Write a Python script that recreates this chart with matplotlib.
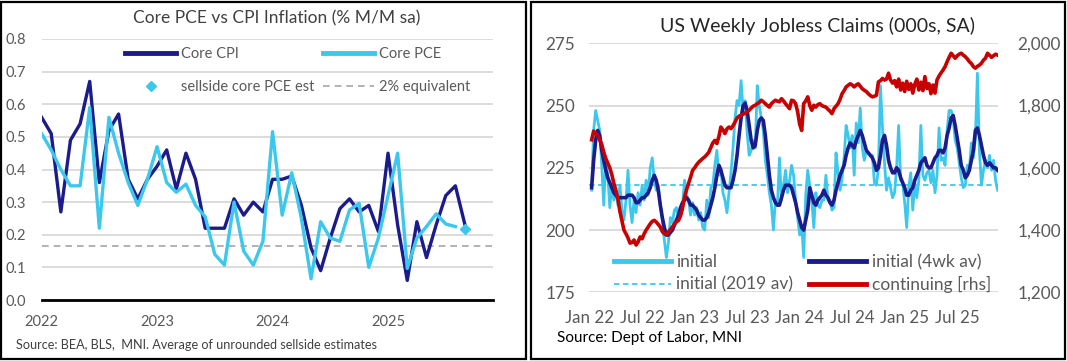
import numpy as np
import matplotlib
matplotlib.use('Agg')
import matplotlib.pyplot as plt
from matplotlib.lines import Line2D
from matplotlib.patches import Rectangle
from matplotlib.ticker import FuncFormatter

plt.rcParams['font.family'] = ['Lato', 'DejaVu Sans']

# ---- left chart: monthly core inflation, Jan 2022 onwards ----
core_cpi = [0.56, 0.51, 0.27, 0.49, 0.54, 0.67, 0.36, 0.52, 0.57, 0.37, 0.31, 0.37,
            0.41, 0.46, 0.34, 0.45, 0.37, 0.22, 0.22, 0.22, 0.31, 0.26, 0.30, 0.27,
            0.37, 0.37, 0.38, 0.29, 0.16, 0.09, 0.19, 0.28, 0.31, 0.27, 0.29, 0.21,
            0.45, 0.23, 0.06, 0.24, 0.13, 0.23, 0.32, 0.35, 0.23]
core_pce = [0.51, 0.46, 0.40, 0.35, 0.35, 0.59, 0.22, 0.56, 0.45, 0.36, 0.29, 0.37,
            0.47, 0.36, 0.33, 0.355, 0.29, 0.255, 0.14, 0.107, 0.30, 0.15, 0.107, 0.18,
            0.516, 0.26, 0.39, 0.25, 0.065, 0.24, 0.19, 0.18, 0.276, 0.296, 0.10, 0.19,
            0.32, 0.45, 0.097, 0.19, 0.225, 0.264, 0.233, 0.225]
sellside_month = 44
sellside_est = 0.217
two_pct_equiv = 0.165
year_ticks = [0, 12, 24, 36]
year_labels = ['2022', '2023', '2024', '2025']

# ---- right chart: weekly jobless claims, week 0 = 8 Jan 2022 ----
initial = [216, 240, 248, 244, 240, 226, 210, 228, 222, 209,
           218, 212, 216, 210, 218, 208, 204, 212, 224, 210,
           203, 212, 207, 215, 210, 218, 212, 220, 214, 225,
           229, 220, 216, 218, 210, 204, 196, 189, 195, 205,
           203, 208, 209, 204, 207, 210, 220, 214, 212, 206,
           211, 206, 209, 204, 207, 201, 200, 212, 205, 217,
           218, 226, 232, 222, 225, 215, 212, 207, 215, 223,
           233, 245, 252, 250, 260, 248, 252, 239, 230, 232,
           236, 233, 258, 250, 245, 240, 228, 222, 215, 210,
           200, 212, 210, 229, 212, 218, 224, 215, 220, 226,
           222, 212, 205, 198, 202, 189, 214, 224, 218, 212,
           201, 215, 210, 209, 212, 212, 222, 212, 212, 208,
           209, 231, 223, 216, 221, 229, 242, 238, 233, 238,
           222, 243, 235, 249, 233, 228, 232, 231, 230, 230,
           219, 218, 225, 258, 241, 227, 216, 221, 217, 213,
           215, 225, 242, 220, 219, 211, 201, 217, 223, 208,
           219, 213, 220, 242, 222, 220, 223, 224, 219, 224,
           215, 222, 241, 228, 229, 226, 240, 248, 248, 245,
           236, 233, 227, 221, 217, 218, 226, 224, 235, 229,
           237, 263, 232, 218, 224, 228, 225, 230, 224, 228,
           220, 216]
initial_4wk = [217, 228, 236, 240, 238, 232, 228, 224, 221, 219,
               217, 215, 214, 213, 213, 213, 213, 213, 214, 214,
               214, 213, 211, 211, 212, 213, 213, 214, 215, 217,
               220, 222, 220, 216, 210, 205, 201, 198, 198, 199,
               200, 202, 204, 206, 209, 211, 212, 213, 212, 210,
               210, 209, 208, 206, 205, 204, 204, 205, 207, 210,
               213, 217, 222, 226, 224, 221, 218, 217, 217, 217,
               220, 224, 230, 238, 245, 250, 251, 248, 242, 236,
               233, 234, 240, 244, 245, 244, 238, 230, 222, 216,
               213, 211, 210, 210, 213, 216, 218, 218, 218, 217,
               214, 211, 207, 204, 201, 200, 204, 208, 217, 214,
               211, 210, 212, 213, 214, 216, 214, 213, 211, 210,
               212, 216, 219, 222, 224, 226, 230, 233, 235, 234,
               233, 236, 238, 240, 238, 235, 232, 231, 230, 229,
               227, 224, 225, 230, 236, 238, 234, 228, 225, 223,
               223, 225, 224, 221, 219, 217, 214, 214, 216, 217,
               220, 222, 224, 227, 228, 229, 226, 225, 225, 227,
               229, 230, 232, 232, 231, 233, 238, 241, 245, 246,
               242, 237, 232, 226, 224, 221, 222, 224, 228, 232,
               240, 241, 238, 234, 230, 227, 226, 227, 226, 225,
               225, 224]
continuing = [1690, 1718, 1710, 1705, 1690, 1675, 1650, 1630, 1615, 1600,
              1578, 1550, 1528, 1500, 1460, 1430, 1400, 1388, 1375, 1358,
              1360, 1368, 1352, 1362, 1378, 1372, 1388, 1400, 1410, 1420,
              1428, 1431, 1426, 1418, 1410, 1395, 1388, 1385, 1394, 1402,
              1410, 1420, 1426, 1431, 1445, 1470, 1506, 1530, 1550, 1570,
              1592, 1600, 1610, 1618, 1624, 1630, 1635, 1642, 1650, 1665,
              1680, 1688, 1678, 1700, 1731, 1722, 1710, 1725, 1731, 1726,
              1735, 1747, 1760, 1766, 1769, 1772, 1776, 1780, 1785, 1792,
              1798, 1801, 1806, 1810, 1817, 1812, 1806, 1800, 1795, 1806,
              1812, 1817, 1814, 1812, 1822, 1815, 1806, 1798, 1790, 1817,
              1815, 1806, 1780, 1740, 1720, 1806, 1815, 1828, 1800, 1785,
              1801, 1795, 1803, 1806, 1800, 1797, 1795, 1788, 1782, 1774,
              1790, 1798, 1806, 1820, 1838, 1848, 1860, 1865, 1870, 1866,
              1860, 1866, 1870, 1862, 1854, 1849, 1845, 1838, 1832, 1828,
              1830, 1833, 1876, 1880, 1887, 1882, 1885, 1904, 1882, 1872,
              1880, 1860, 1885, 1850, 1872, 1845, 1878, 1852, 1870, 1840,
              1868, 1885, 1850, 1875, 1848, 1893, 1855, 1870, 1838, 1866,
              1840, 1882, 1895, 1905, 1914, 1925, 1941, 1955, 1968, 1960,
              1952, 1960, 1965, 1968, 1962, 1957, 1950, 1941, 1935, 1925,
              1920, 1926, 1930, 1936, 1946, 1952, 1968, 1962, 1955, 1960,
              1965, 1962]
initial_2019_avg = 218
week_ticks = [-1, 25, 51, 77, 103, 129, 155, 181]
week_labels = ['Jan 22', 'Jul 22', 'Jan 23', 'Jul 23', 'Jan 24', 'Jul 24', 'Jan 25', 'Jul 25']

NAVY = '#1b1b8c'
CYAN = '#3cc8ec'
RED = '#c80000'
DASH_GRAY = '#a6a6a6'
GRID = '#d9d9d9'
TXT = '#595959'

W, H = 1067, 361
fig = plt.figure(figsize=(W / 100, H / 100), dpi=100)


def box(x0, y0, x1, y1):
    # pixel coords from top-left -> figure fraction
    return [x0 / W, 1 - y1 / H, (x1 - x0) / W, (y1 - y0) / H]


# panel frames
for x0, x1 in [(1, 526), (531, 1065)]:
    fig.add_artist(Rectangle((x0 / W, 2 / H), (x1 - x0) / W, (H - 4) / H,
                             transform=fig.transFigure, fill=False,
                             ec='black', lw=1.6))

# ---------------- left panel ----------------
ax1 = fig.add_axes(box(41.6, 39, 492.9, 300))
months = np.arange(len(core_cpi))
ax1.axhline(two_pct_equiv, color=DASH_GRAY, lw=1.2, ls=(0, (4, 3)), zorder=2)
ax1.plot(months, core_cpi, color=NAVY, lw=2.4, zorder=3)
ax1.plot(months[:len(core_pce)], core_pce, color=CYAN, lw=2.4, zorder=4)
ax1.plot([sellside_month], [sellside_est], 'D', color=CYAN, ms=5.5, zorder=5)
ax1.set_xlim(0, 46.9)
ax1.set_ylim(0, 0.8)
ax1.set_yticks(np.arange(0, 0.81, 0.1))
ax1.yaxis.set_major_formatter(FuncFormatter(lambda v, p: f'{v:.1f}'))
ax1.set_xticks(year_ticks)
ax1.set_xticklabels(year_labels)
ax1.grid(axis='y', color=GRID, lw=1.3)
ax1.set_axisbelow(True)
for s in ['top', 'right', 'left']:
    ax1.spines[s].set_visible(False)
ax1.spines['bottom'].set_color('black')
ax1.spines['bottom'].set_linewidth(2)
ax1.tick_params(axis='y', length=0, labelsize=10.5, labelcolor=TXT, pad=11)
ax1.tick_params(axis='x', length=0, labelsize=10.5, labelcolor=TXT, pad=11)

h_cpi = Line2D([], [], color=NAVY, lw=3.5)
h_pce = Line2D([], [], color=CYAN, lw=3.5)
h_sell = Line2D([], [], color=CYAN, marker='D', ms=5, ls='none')
h_2pct = Line2D([], [], color=DASH_GRAY, lw=1.2, ls=(0, (4, 3)))
leg_kw = dict(loc='center left', frameon=False, borderpad=0, borderaxespad=0,
              handletextpad=0.35, labelspacing=1.3, fontsize=10.5, labelcolor=TXT)
leg1 = ax1.legend([h_cpi, h_sell], ['Core CPI', 'sellside core PCE est'],
                  bbox_to_anchor=((125 - 41.6) / 451.3, 1 - (70.5 - 39) / 261),
                  handlelength=3.5, **leg_kw)
ax1.add_artist(leg1)
ax1.legend([h_pce, h_2pct], ['Core PCE', '2% equivalent'],
           bbox_to_anchor=((323 - 41.6) / 451.3, 1 - (70.5 - 39) / 261),
           handlelength=3.5, **leg_kw)

fig.text(277 / W, 1 - 18 / H, 'Core PCE vs CPI Inflation (% M/M sa)',
         ha='center', va='center', fontsize=12.5, color='#404040')
fig.text(16 / W, 1 - 345 / H,
         'Source: BEA, BLS,  MNI. Average of unrounded sellside estimates',
         ha='left', va='center', fontsize=9.1, color='#404040')

# ---------------- right panel ----------------
ax2 = fig.add_axes(box(588.6, 43.3, 997.6, 292.3))
ax2r = ax2.twinx()
weeks = np.arange(len(initial))
ax2.axhline(initial_2019_avg, color=CYAN, lw=1.3, ls=(0, (3, 2)), zorder=2)
ax2.plot(weeks, initial, color=CYAN, lw=2.0, zorder=3)
ax2.plot(weeks[:len(initial_4wk)], initial_4wk, color=NAVY, lw=2.6, zorder=4)
ax2r.plot(weeks[:len(continuing)], continuing, color=RED, lw=2.6, zorder=5)

ax2.set_xlim(-1.5, 201)
ax2.set_ylim(175, 275)
ax2.set_yticks([175, 200, 225, 250, 275])
ax2.set_xticks(week_ticks)
ax2.set_xticklabels(week_labels)
ax2.grid(axis='y', color=GRID, lw=1.3)
ax2.set_axisbelow(True)
ax2r.set_ylim(1200, 2000)
ax2r.set_yticks([1200, 1400, 1600, 1800, 2000])
ax2r.yaxis.set_major_formatter(FuncFormatter(lambda v, p: f'{v:,.0f}'))
for a in (ax2, ax2r):
    for s in a.spines.values():
        s.set_visible(False)
ax2.tick_params(axis='y', length=0, labelsize=12.3, labelcolor=TXT, pad=9.8)
ax2.tick_params(axis='x', length=0, labelsize=12.2, labelcolor=TXT, pad=13)
ax2r.tick_params(axis='y', length=0, labelsize=12.3, labelcolor=TXT, pad=14.5)

h_init = Line2D([], [], color=CYAN, lw=3.5)
h_4wk = Line2D([], [], color=NAVY, lw=3.5)
h_2019 = Line2D([], [], color=CYAN, lw=1.3, ls=(0, (3, 2)))
h_cont = Line2D([], [], color=RED, lw=3.5)
leg_kw2 = dict(loc='center left', frameon=False, borderpad=0, borderaxespad=0,
               handletextpad=0.3, labelspacing=0.35, fontsize=12.5, labelcolor=TXT)
yleg = 1 - (273.5 - 43.3) / 249
leg3 = ax2r.legend([h_init, h_2019], ['initial', 'initial (2019 av)'],
                   bbox_to_anchor=((614 - 588.6) / 409, yleg), handlelength=3.3, **leg_kw2)
ax2r.add_artist(leg3)
ax2r.legend([h_4wk, h_cont], ['initial (4wk av)', 'continuing [rhs]'],
            bbox_to_anchor=((809 - 588.6) / 409, yleg), handlelength=3.3, **leg_kw2)

fig.text(817.7 / W, 1 - 26 / H, 'US Weekly Jobless Claims (000s, SA)',
         ha='center', va='center', fontsize=14, color='#262626')
fig.text(557 / W, 1 - 338 / H, 'Source: Dept of Labor, MNI',
         ha='left', va='center', fontsize=11, color='black')

fig.savefig('out.png', dpi=100)
